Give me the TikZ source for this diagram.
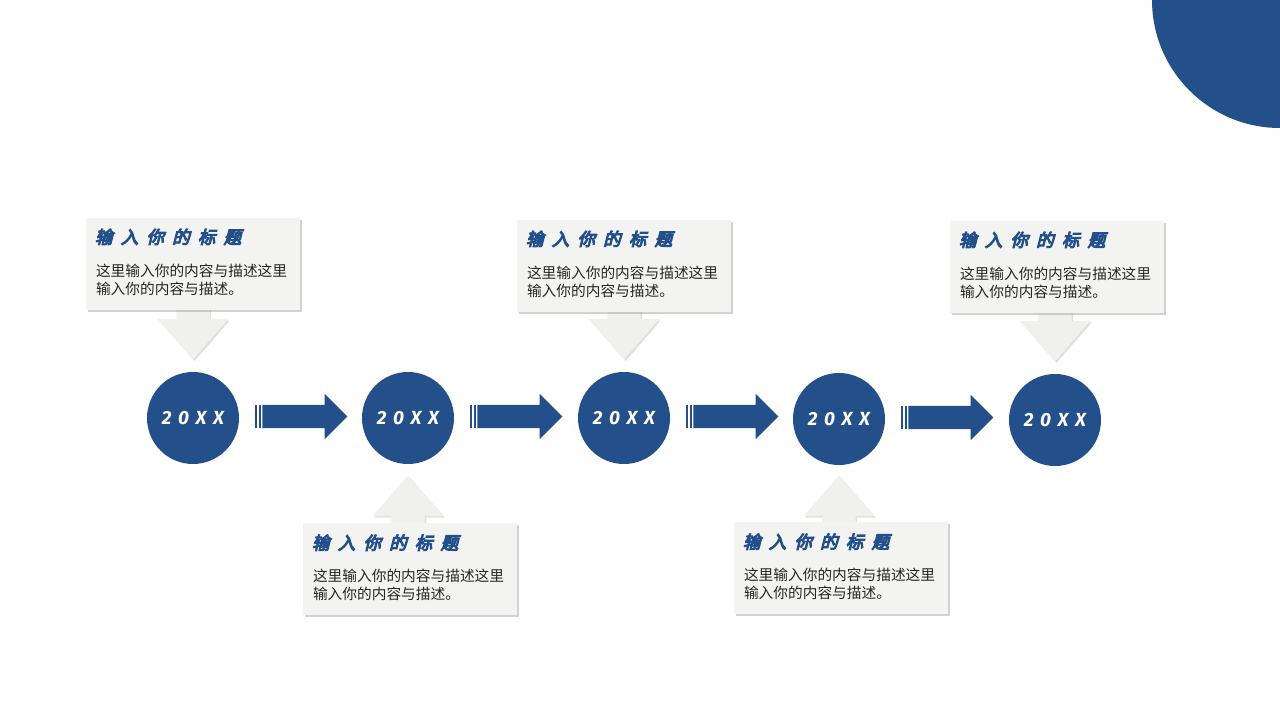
\documentclass[tikz,border=0pt]{standalone}
\usepackage{fontspec}
\setmainfont{Noto Sans CJK SC}
\newfontfamily\cjk{Noto Sans CJK SC}
\newfontfamily\cjktitle{Noto Sans CJK SC}[FakeSlant=0.25, FakeBold=6, LetterSpace=47]
\newfontfamily\yearfont{Fira Sans}[LetterSpace=35]
\usetikzlibrary{positioning, calc, shapes.arrows, shadows}

\definecolor{navy}{HTML}{23508A}
\definecolor{cardgray}{HTML}{F3F3F1}
\definecolor{pointgray}{HTML}{F0F0EE}
\definecolor{descgray}{HTML}{262626}

\begin{document}
\begin{tikzpicture}[
            x=1pt, y=-1pt,
            year/.style={circle, fill=navy, minimum size=92pt, inner sep=0pt, text=white,
                font=\yearfont\bfseries\itshape\fontsize{19}{19}\selectfont},
            card/.style={fill=cardgray, minimum width=214pt, minimum height=92pt, inner sep=0pt,
                drop shadow={shadow xshift=2pt, shadow yshift=-2pt, opacity=0.35}},
            pointer/.style={single arrow, fill=pointgray, inner sep=16.5pt, minimum height=70pt,
                single arrow head extend=18.5pt, single arrow tip angle=82,
                drop shadow={shadow xshift=1.5pt, shadow yshift=-1.5pt, opacity=0.25}},
            flow/.style={single arrow, fill=navy, inner sep=11.5pt, minimum height=85pt,
                single arrow head extend=11pt, single arrow tip angle=90},
            ctitle/.style={inner sep=0pt, text=navy, font=\cjktitle\fontsize{17.5}{17.5}\selectfont},
            cdesc/.style={inner sep=0pt, align=left, text=descgray, font=\cjk\fontsize{14.7}{18}\selectfont},
            ]
            \useasboundingbox (0,0) rectangle (1280,720);
            \fill[white] (0,0) rectangle (1280,720);
            % corner disc
            \begin{scope}
                \clip (0,0) rectangle (1280,720);
                \fill[navy] (1280,0) circle (128);
            \end{scope}

            % years
            \node[year] (y1) at (193,418) {20XX};
            \node[year] (y2) at (408,418) {20XX};
            \node[year] (y3) at (624,418) {20XX};
            \node[year] (y4) at (839,419) {20XX};
            \node[year] (y5) at (1055,420) {20XX};

            % pointers under the cards
            \node[pointer, rotate=-90, anchor=tip] (p1) at ($(y1.north)+(0,-12)$) {};
            \node[pointer, rotate=90, anchor=tip] (p2) at ($(y2.south)+(0,11)$) {};
            \node[pointer, rotate=-90, anchor=tip] (p3) at ($(y3.north)+(0,-12)$) {};
            \node[pointer, rotate=90, anchor=tip] (p4) at ($(y4.south)+(0,10)$) {};
            \node[pointer, rotate=-90, anchor=tip] (p5) at ($(y5.north)+(0,-12)$) {};

            % cards
            \node[card, above=62pt of y1] (b1) {};
            \node[card, below=59pt of y2, xshift=2pt] (b2) {};
            \node[card, above=60pt of y3] (b3) {};
            \node[card, below=57pt of y4, xshift=2pt] (b4) {};
            \node[card, above=61pt of y5, xshift=2pt] (b5) {};

            \foreach \b in {1,...,5} {
                \node[ctitle, anchor=west] (t\b) at ($(b\b.north west)+(9,19.5)$) {输入你的标题};
                \node[cdesc, anchor=north west] (d\b) at ($(b\b.north west)+(10,46)$)
                    {这里输入你的内容与描述这里\\输入你的内容与描述。};
            }

            % flow arrows
            \foreach \i in {1,...,4} {
                \node[flow, anchor=tail] (f\i) at ($(y\i.east)+(23,-1.5)$) {};
                \fill[navy] ($(f\i.tail)+(-7,-11.5)$) rectangle ++(2,23);
                \fill[navy] ($(f\i.tail)+(-3.5,-11.5)$) rectangle ++(2,23);
            }
        \end{tikzpicture}
\end{document}
